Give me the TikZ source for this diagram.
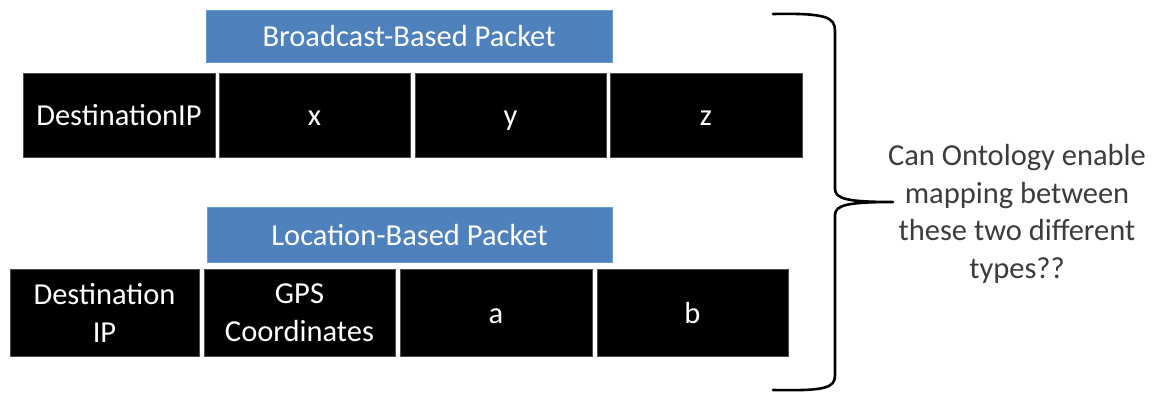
\documentclass[tikz,border=0pt]{standalone}
\usepackage{fontspec}
\setmainfont{Carlito}
\definecolor{hdrblue}{HTML}{4F81BD}
\definecolor{hdredge}{HTML}{6A9AD6}
\definecolor{qgray}{HTML}{3C3C3C}
\begin{document}
\begin{tikzpicture}[x=1pt,y=-1pt,
  cell/.style={fill=black,draw=black!70,line width=0.8pt,text=white,inner sep=0pt,outer sep=0pt,
    align=center,font=\fontsize{30.5}{38}\selectfont},
  oneline/.style={text height=24pt,text depth=3pt},
  hdr/.style={fill=hdrblue,draw=hdredge,line width=1pt,text=white,inner sep=0pt,outer sep=0pt,
    font=\fontsize{30.5}{38}\selectfont,oneline},
  question/.style={text=qgray,align=center,font=\fontsize{30.5}{37.5}\selectfont,inner sep=0pt},
  bracepath/.style={line width=2.6pt,line cap=round,line join=round}]
\useasboundingbox (0,0) rectangle (1153,394);
% headers
\node[hdr,minimum width=406pt,minimum height=52pt] (h1) at (409,36) {Broadcast-Based Packet};
\node[hdr,minimum width=405pt,minimum height=55pt] (h2) at (409.5,234.5) {Location-Based Packet};
% top row
\node[cell,oneline,minimum width=192pt,minimum height=84pt] (t1) at (119,115) {DestinationIP};
\node[cell,oneline,minimum width=191pt,minimum height=84pt] (t2) at (314.5,115) {x};
\node[cell,oneline,minimum width=191pt,minimum height=84pt] (t3) at (510.5,115) {y};
\node[cell,oneline,minimum width=192pt,minimum height=84pt] (t4) at (706,115) {z};
% bottom row
\node[cell,minimum width=189pt,minimum height=87pt] (b1) at (104.5,312.5) {Destination\\IP};
\node[cell,minimum width=191pt,minimum height=87pt] (b2) at (299.5,312.5) {GPS\\Coordinates};
\node[cell,oneline,minimum width=192pt,minimum height=87pt] (b3) at (496,312.5) {a};
\node[cell,oneline,minimum width=191pt,minimum height=87pt] (b4) at (692.5,312.5) {b};
% brace
\coordinate (btop) at (773,14);
\coordinate (btip) at (893,202);
\coordinate (bbot) at (773,390);
\draw[bracepath] (btop) .. controls (826,13) and (835,17) .. (835,31) -- (835,189)
  .. controls (835,199) and (848,202) .. (btip)
  .. controls (848,202) and (835,205) .. (835,215) -- (835,375)
  .. controls (835,388) and (826,391) .. (bbot);
% question
\node[question] (q) at (1017,214) {Can Ontology enable\\mapping between\\these two different\\types??};
\end{tikzpicture}
\end{document}
